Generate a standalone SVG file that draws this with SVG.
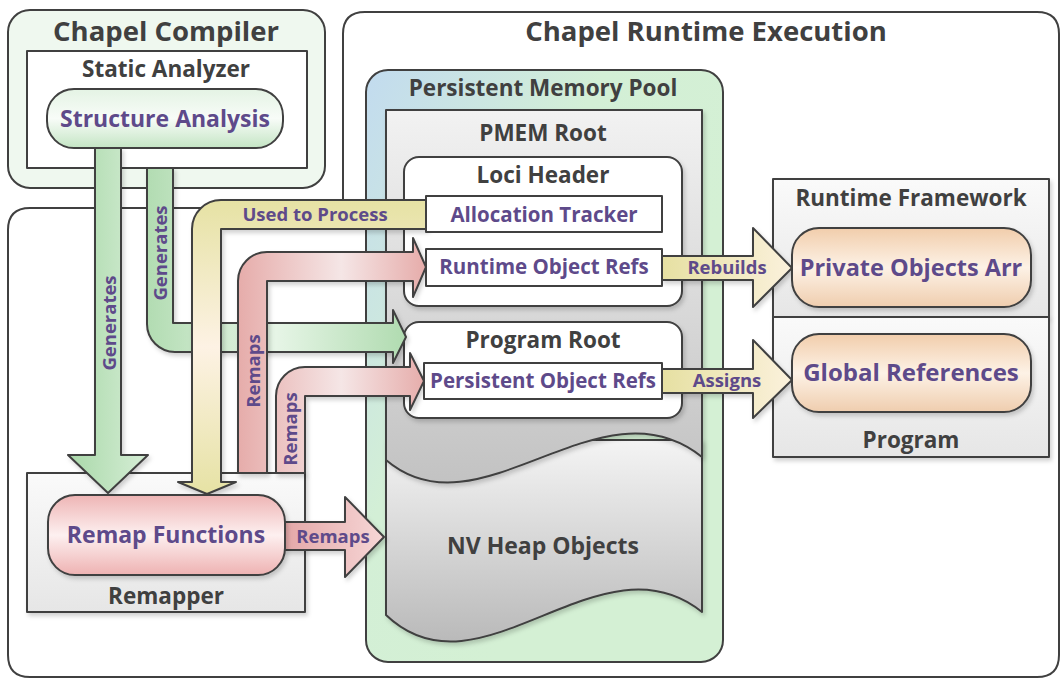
<svg xmlns="http://www.w3.org/2000/svg" width="1062" height="679" viewBox="0 0 1062 679">
  <defs>
    <style>
      text { font-family: "Open Sans", "Liberation Sans", sans-serif; font-weight: bold; text-anchor: middle; }
      .title { fill: #404040; font-size: 22.5px; }
      .big { fill: #404040; font-size: 27.5px; }
      .lbl { fill: #5e4a8a; font-size: 23px; }
      .small { font-size: 20.5px; }
      .alabel { fill: #5e4a8a; font-size: 18.5px; }
      .edge { stroke: #404040; stroke-width: 2; stroke-linejoin: round; }
      .shd { filter: url(#sh); }
    </style>
    <filter id="sh" x="-10%" y="-10%" width="130%" height="130%">
      <feDropShadow dx="2" dy="3" stdDeviation="2" flood-color="#000" flood-opacity="0.18"/>
    </filter>
    <linearGradient id="gPill" x1="0" y1="0" x2="0" y2="1">
      <stop offset="0" stop-color="#e4f3e4"/><stop offset="0.5" stop-color="#f8fcf8"/><stop offset="1" stop-color="#c4e5c4"/>
    </linearGradient>
    <linearGradient id="gRemapFn" x1="0" y1="0" x2="0" y2="1">
      <stop offset="0" stop-color="#eeb4b4"/><stop offset="0.5" stop-color="#fdf0f0"/><stop offset="1" stop-color="#eeb2b2"/>
    </linearGradient>
    <linearGradient id="gPeach" x1="0" y1="0" x2="0" y2="1">
      <stop offset="0" stop-color="#f1cdab"/><stop offset="0.5" stop-color="#fdf2e6"/><stop offset="1" stop-color="#efcdae"/>
    </linearGradient>
    <linearGradient id="gGrey" x1="0" y1="0" x2="0" y2="1">
      <stop offset="0" stop-color="#fafafa"/><stop offset="1" stop-color="#e6e6e6"/>
    </linearGradient>
    <linearGradient id="gPool" x1="0" y1="0" x2="0.7" y2="0.6">
      <stop offset="0" stop-color="#c2dbef"/><stop offset="0.55" stop-color="#d3efd6"/><stop offset="1" stop-color="#d4f0d4"/>
    </linearGradient>
    <linearGradient id="gRoot" gradientUnits="userSpaceOnUse" x1="0" y1="110" x2="0" y2="485">
      <stop offset="0" stop-color="#f2f2f2"/><stop offset="1" stop-color="#c2c2c2"/>
    </linearGradient>
    <linearGradient id="gHeap" gradientUnits="userSpaceOnUse" x1="0" y1="440" x2="0" y2="640">
      <stop offset="0" stop-color="#f4f4f4"/><stop offset="1" stop-color="#bababa"/>
    </linearGradient>
    <linearGradient id="gGreenV" x1="0" y1="0" x2="1" y2="0">
      <stop offset="0" stop-color="#a9d8a9"/><stop offset="1" stop-color="#d6eed6"/>
    </linearGradient>
    <linearGradient id="gGreenH" gradientUnits="userSpaceOnUse" x1="147" y1="0" x2="406" y2="0">
      <stop offset="0" stop-color="#b2dcb2"/><stop offset="0.5" stop-color="#e6f5e6"/><stop offset="1" stop-color="#b0dbb0"/>
    </linearGradient>
    <linearGradient id="gYellowV" gradientUnits="userSpaceOnUse" x1="0" y1="200" x2="0" y2="494">
      <stop offset="0" stop-color="#e6e2a4"/><stop offset="0.5" stop-color="#fdf2e4"/><stop offset="1" stop-color="#e6e2a4"/>
    </linearGradient>
    <linearGradient id="gPink" gradientUnits="userSpaceOnUse" x1="238" y1="0" x2="426" y2="0">
      <stop offset="0" stop-color="#e6acaa"/><stop offset="0.55" stop-color="#f5e6e6"/><stop offset="1" stop-color="#e6acaa"/>
    </linearGradient>
    <linearGradient id="gPinkR" x1="0" y1="0" x2="1" y2="0">
      <stop offset="0" stop-color="#e4a8a8"/><stop offset="1" stop-color="#f6d6d6"/>
    </linearGradient>
    <linearGradient id="gYellowR" x1="0" y1="0" x2="1" y2="0">
      <stop offset="0" stop-color="#e6e0a2"/><stop offset="1" stop-color="#fbf1dc"/>
    </linearGradient>
  </defs>

  <rect width="1062" height="679" fill="#ffffff"/>

  <!-- outer containers -->
  <g id="runtime-execution">
    <path class="edge" fill="#ffffff" d="M8,230 Q8,208 30,208 L343,208 L343,34 Q343,12 365,12 L1037,12 Q1059,12 1059,34 L1059,655 Q1059,677 1037,677 L30,677 Q8,677 8,655 Z"/>
    <text class="big" x="706" y="41">Chapel Runtime Execution</text>
  </g>

  <g id="chapel-compiler">
    <rect class="edge" x="8" y="10" width="317" height="178" rx="22" fill="#eff8ef"/>
    <text class="big" x="166" y="41">Chapel Compiler</text>
  </g>

  <g id="static-analyzer">
    <rect class="edge" x="27" y="51" width="280" height="117" fill="#ffffff"/>
    <text class="title" x="166" y="77">Static Analyzer</text>
  </g>

  <g id="remapper">
    <rect class="edge shd" x="27" y="473" width="278" height="139" fill="url(#gGrey)"/>
    <text class="title" x="166" y="604">Remapper</text>
  </g>

  <g id="runtime-framework">
    <rect class="edge shd" x="773" y="179" width="276" height="138" fill="url(#gGrey)"/>
    <text class="title" x="911" y="206">Runtime Framework</text>
  </g>

  <g id="program">
    <rect class="edge shd" x="773" y="317" width="276" height="140" fill="url(#gGrey)"/>
    <text class="title" x="911" y="448">Program</text>
  </g>

  <g id="persistent-memory-pool">
    <rect class="edge" x="366" y="70" width="357" height="592" rx="22" fill="url(#gPool)"/>
    <text class="title" x="543" y="96">Persistent Memory Pool</text>
  </g>

  <g id="nv-heap-objects">
    <path class="edge shd" fill="url(#gHeap)" d="M386,440 L702,440 L702,612 C600,530 480,705 386,615 Z"/>
    <text class="title" x="543" y="554" style="font-size:23px">NV Heap Objects</text>
  </g>

  <g id="pmem-root">
    <path class="edge shd" fill="url(#gRoot)" d="M386,110 L702,110 L702,457 C600,375 480,540 386,460 Z"/>
    <text class="title" x="543" y="141">PMEM Root</text>
  </g>

  <g id="loci-header">
    <rect class="edge shd" x="404" y="157" width="278" height="149" rx="15" fill="#ffffff"/>
    <text class="title" x="543" y="183">Loci Header</text>
  </g>

  <g id="program-root">
    <rect class="edge shd" x="404" y="322" width="278" height="96" rx="15" fill="#ffffff"/>
    <text class="title" x="543" y="348">Program Root</text>
  </g>

  <!-- connectors -->
  <g id="connectors">
    <path class="edge shd" fill="url(#gGreenV)" d="M95,148 L121,148 L121,455 L148,455 L108,493 L68,455 L95,455 Z"/>
    <path class="edge shd" fill="url(#gGreenH)" d="M147,168 L173,168 L173,323 L393,323 L393,310 L406,337 L393,363 L393,352 L175,352 A28,28 0 0 1 147,324 Z"/>
    <path class="edge shd" fill="url(#gYellowV)" d="M427,200 L427,229 L221,229 L221,482 L236,482 L207,494 L178,482 L192,482 L192,229 A29,29 0 0 1 221,200 Z"/>
    <path class="edge shd" fill="url(#gPink)" d="M238,473 L238,281 A29,29 0 0 1 267,252 L413,252 L413,238 L426,267 L413,297 L413,281 L267,281 L267,473 Z"/>
    <path class="edge shd" fill="url(#gPink)" d="M276,473 L276,396 A29,29 0 0 1 305,367 L410,367 L410,353 L424,381 L410,410 L410,396 L305,396 L305,473 Z"/>
    <path class="edge shd" fill="url(#gPinkR)" d="M284,522 L345,522 L345,497 L384,537 L345,577 L345,550 L284,550 Z"/>
    <path class="edge shd" fill="url(#gYellowR)" d="M662,256 L753,256 L753,228 L792,268 L753,307 L753,280 L662,280 Z"/>
    <path class="edge shd" fill="url(#gYellowR)" d="M662,369 L753,369 L753,340 L792,380 L753,418 L753,393 L662,393 Z"/>

    <text class="alabel" transform="translate(116,323) rotate(-90)">Generates</text>
    <text class="alabel" transform="translate(167,253) rotate(-90)">Generates</text>
    <text class="alabel" x="315" y="221">Used to Process</text>
    <text class="alabel" transform="translate(260,371) rotate(-90)">Remaps</text>
    <text class="alabel" transform="translate(297,429) rotate(-90)">Remaps</text>
    <text class="alabel" x="333" y="543">Remaps</text>
    <text class="alabel" x="727" y="274">Rebuilds</text>
    <text class="alabel" x="727" y="387">Assigns</text>
  </g>

  <!-- inner nodes -->
  <g id="structure-analysis">
    <rect class="edge" x="47" y="89" width="236" height="59" rx="27" fill="url(#gPill)"/>
    <text class="lbl" x="165" y="127">Structure Analysis</text>
  </g>

  <g id="allocation-tracker">
    <rect class="edge" x="426" y="196" width="236" height="36" fill="#ffffff"/>
    <text class="lbl small" x="544" y="222">Allocation Tracker</text>
  </g>

  <g id="runtime-object-refs">
    <rect class="edge" x="426" y="249" width="236" height="37" fill="#ffffff"/>
    <text class="lbl small" x="544" y="274">Runtime Object Refs</text>
  </g>

  <g id="persistent-object-refs">
    <rect class="edge" x="424" y="363" width="238" height="36" fill="#ffffff"/>
    <text class="lbl small" x="543" y="388">Persistent Object Refs</text>
  </g>

  <g id="remap-functions">
    <rect class="edge shd" x="48" y="495" width="237" height="80" rx="27" fill="url(#gRemapFn)"/>
    <text class="lbl" x="166" y="543">Remap Functions</text>
  </g>

  <g id="private-objects-arr">
    <rect class="edge shd" x="792" y="228" width="239" height="79" rx="27" fill="url(#gPeach)"/>
    <text class="lbl" x="911" y="276" style="font-size:23.5px">Private Objects Arr</text>
  </g>

  <g id="global-references">
    <rect class="edge shd" x="792" y="334" width="239" height="78" rx="27" fill="url(#gPeach)"/>
    <text class="lbl" x="911" y="381" style="font-size:24px">Global References</text>
  </g>
</svg>
